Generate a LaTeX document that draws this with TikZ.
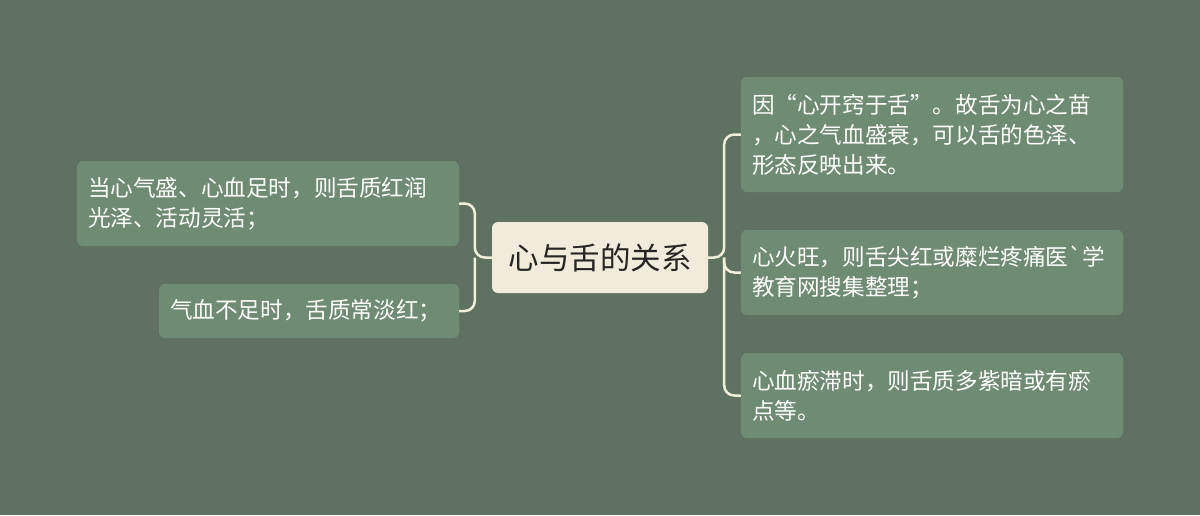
\documentclass[tikz,border=0pt]{standalone}
\usepackage{fontspec}
\newfontfamily\cjk{Noto Sans CJK SC}[Ligatures=TeXOff]
\definecolor{bgc}{HTML}{5F7262}
\definecolor{leafc}{HTML}{6E8B73}
\definecolor{rootc}{HTML}{F0EBDA}
\definecolor{linec}{HTML}{F2EEDC}
\begin{document}
\begin{tikzpicture}[x=1pt,y=-1pt,
  leaf/.style={fill=leafc, rounded corners=6pt, text=white, align=left,
    font=\cjk\fontsize{22.6}{30}\selectfont, inner xsep=11pt, inner ysep=0pt,
    anchor=center},
  rootbox/.style={fill=rootc, rounded corners=6pt, text=black!85, align=center,
    font=\cjk\fontsize{30.5}{36}\selectfont, inner sep=0pt, anchor=center,
    minimum width=216pt, minimum height=71pt},
  conn/.style={draw=linec, line width=2.5pt, rounded corners=10pt}]
\fill[bgc] (0,0) rectangle (1200,515);
\useasboundingbox (0,0) rectangle (1200,515);

\node[rootbox] (c) at (600,257.5) {心与舌的关系};

\node[leaf, text width=360pt, minimum height=85pt] (l1) at (268,203.5)
  {当心气盛、心血足时，则舌质红润\\光泽、活动灵活；};
\node[leaf, text width=278pt, minimum height=54pt] (l2) at (309,311)
  {气血不足时，舌质常淡红；};

\node[leaf, text width=360pt, minimum height=115pt] (r1) at (932,134.5)
  {因“心开窍于舌”。故舌为心之苗\\，心之气血盛衰，可以舌的色泽、\\形态反映出来。};
\node[leaf, text width=360pt, minimum height=85pt] (r2) at (932,272.5)
  {心火旺，则舌尖红或糜烂疼痛医\char96 学\\教育网搜集整理；};
\node[leaf, text width=360pt, minimum height=85pt] (r3) at (932,395.5)
  {心血瘀滞时，则舌质多紫暗或有瘀\\点等。};

\coordinate (lj) at ([xshift=-17pt]c.west);
\coordinate (rj) at ([xshift=16pt]c.east);
\draw[conn] (c.west) -- (lj) |- (l1.east);
\draw[conn] (lj) |- (l2.east);
\draw[conn] (c.east) -- (rj) |- (r1.west);
\draw[conn] (rj) |- (r2.west);
\draw[conn] (rj) |- (r3.west);
\end{tikzpicture}
\end{document}
